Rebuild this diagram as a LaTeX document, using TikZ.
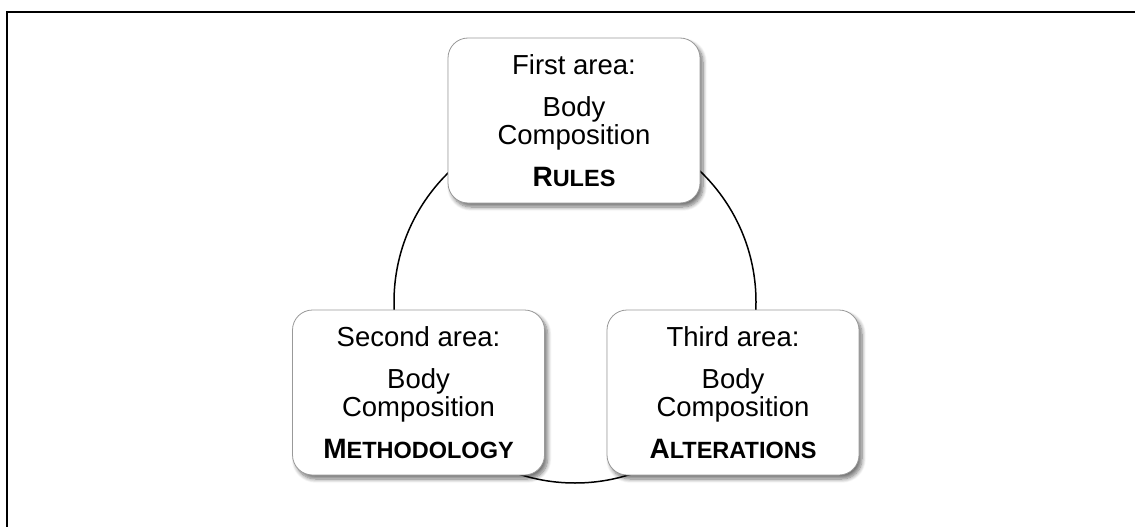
\documentclass[tikz,border=0pt]{standalone}
\usepackage{fontspec}
\setmainfont{Liberation Sans}
\usetikzlibrary{shadows.blur}

% fake small capitals, Word style
\newcommand{\areacaps}[2]{{\bfseries\fontsize{28}{28}\selectfont #1\fontsize{23.5}{28}\selectfont #2}}

\tikzset{
  areabox/.style={draw=black!40, line width=0.8pt, fill=white, rounded corners=20pt,
    minimum width=252pt, minimum height=165pt, inner sep=0pt, align=center,
    font=\fontsize{27.5}{28}\selectfont,
    blur shadow={shadow xshift=3pt, shadow yshift=-4pt, shadow blur radius=4pt,
      shadow blur steps=8, shadow opacity=55}},
}

\begin{document}
\begin{tikzpicture}[x=1pt,y=-1pt]
  \useasboundingbox (0,0) rectangle (1135,527);
  \draw[line width=2pt] (7,12) rectangle (1145,540);

  \coordinate (hub) at (575,302);
  \draw[line width=1.5pt] (hub) circle[radius=181pt];

  \node[areabox] (rules) at (574,120.5)
    {First area:\\[14pt]Body\\Composition\\[14pt]\areacaps{R}{ULES}};
  \node[areabox] (method) at (418.5,392.5)
    {Second area:\\[14pt]Body\\Composition\\[14pt]\areacaps{M}{ETHODOLOGY}};
  \node[areabox] (alter) at (733,392.5)
    {Third area:\\[14pt]Body\\Composition\\[14pt]\areacaps{A}{LTERATIONS}};
\end{tikzpicture}
\end{document}
